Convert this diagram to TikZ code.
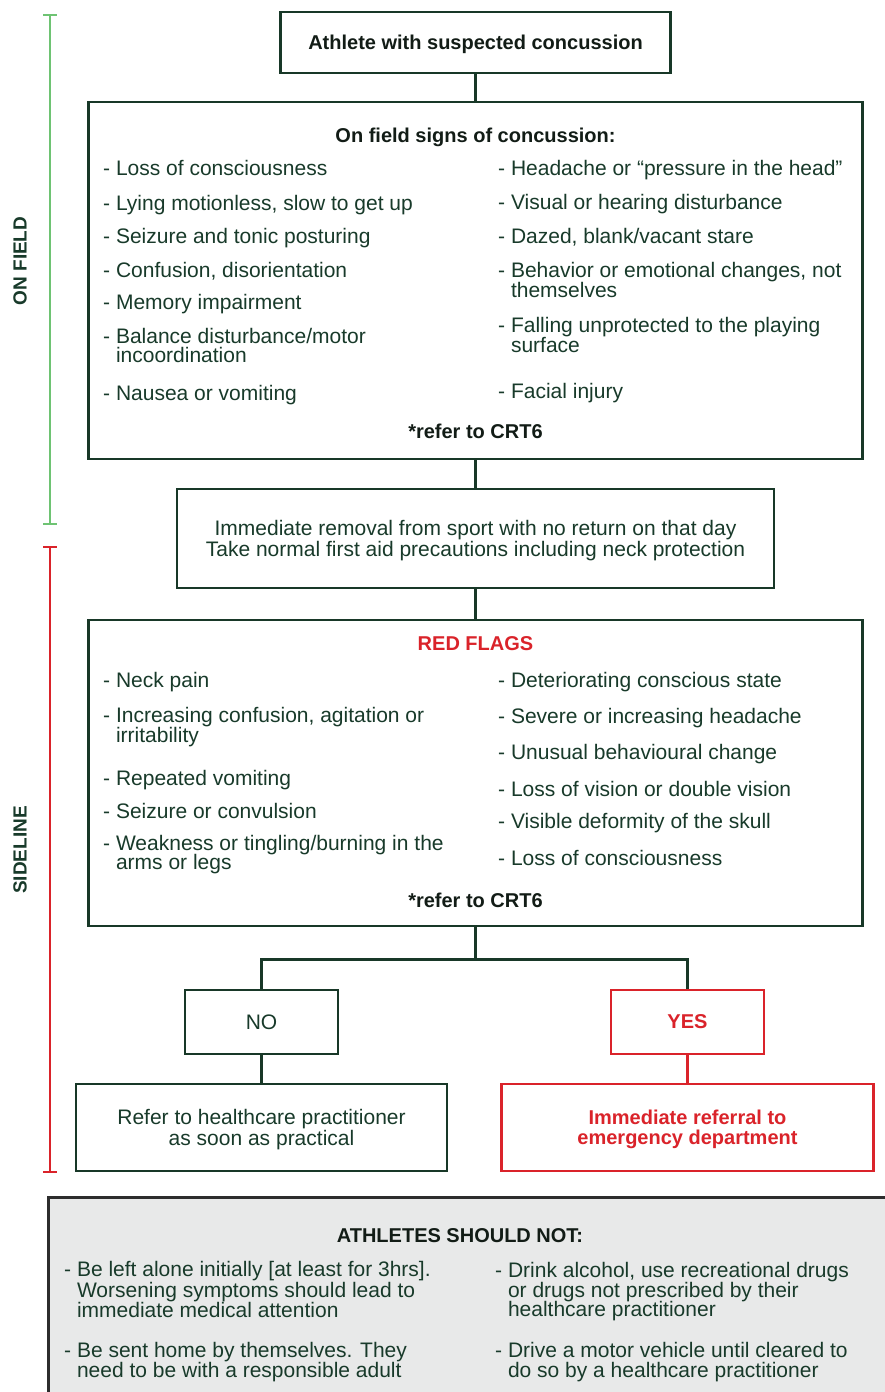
\documentclass[tikz,border=0pt]{standalone}
\usepackage{fontspec}
\setmainfont{Liberation Sans}
\definecolor{tgreen}{RGB}{24,58,42}
\definecolor{bgreen}{RGB}{24,56,40}
\definecolor{hblack}{RGB}{18,28,22}
\definecolor{fred}{RGB}{218,35,42}
\definecolor{gbarc}{RGB}{110,195,115}
\definecolor{gfill}{RGB}{232,233,233}
\definecolor{dgrey}{RGB}{45,45,45}
\tikzset{
  box/.style={draw=bgreen, line width=2.5pt, inner sep=0pt, text=tgreen, align=center},
  rbox/.style={draw=fred, line width=2.5pt, inner sep=0pt, text=fred, align=center},
  itemtxt/.style={anchor=base west, inner sep=0pt, text=tgreen, font=\fontsize{21}{20}\selectfont},
  headtxt/.style={anchor=base, inner sep=0pt, text=hblack, font=\bfseries\fontsize{20}{20}\selectfont},
  conn/.style={draw=bgreen, line width=2.5pt},
  rconn/.style={draw=fred, line width=2.5pt},
  sidelbl/.style={rotate=90, inner sep=0pt, text=tgreen, font=\bfseries\fontsize{19}{19}\selectfont},
}
\newcommand\itm[4]{\node[itemtxt] (#1) at (#2,#3) {- #4};}
\newcommand\itc[4]{\node[itemtxt] (#1) at (#2,#3) {\phantom{- }#4};}
\begin{document}
\begin{tikzpicture}[x=1pt,y=-1pt]
\useasboundingbox (0,0) rectangle (885,1392);
\fill[white] (0,0) rectangle (885,1392);

% side bars
\draw[gbarc, line width=1.6pt] (50,15) -- (50,524);
\draw[gbarc, line width=1.6pt] (43,15) -- (57,15);
\draw[gbarc, line width=1.6pt] (43,524) -- (57,524);
\draw[fred, line width=1.6pt] (50,547) -- (50,1172);
\draw[fred, line width=1.6pt] (43,547) -- (57,547);
\draw[fred, line width=1.6pt] (43,1172) -- (57,1172);
\node[sidelbl] (onfield) at (20,261) {ON FIELD};
\node[sidelbl] (sideline) at (20,850) {SIDELINE};

% boxes
\node[box, minimum width=390pt, minimum height=61pt, text depth=0pt, text=hblack, font=\bfseries\fontsize{20}{20}\selectfont] (top) at (475.5,42.5) {Athlete with suspected concussion};
\node[box, minimum width=774pt, minimum height=357pt] (signs) at (475.5,280.5) {};
\node[box, minimum width=597pt, minimum height=99pt, text depth=0pt, font=\fontsize{21}{20.5}\selectfont] (remove) at (475.5,538.5) {Immediate removal from sport with no return on that day\\Take normal first aid precautions including neck protection};
\node[box, minimum width=774pt, minimum height=306pt] (red) at (475.5,773) {};
\node[box, minimum width=153pt, minimum height=64pt, font=\fontsize{21}{21}\selectfont] (no) at (261.5,1022) {NO};
\node[rbox, minimum width=153pt, minimum height=64pt, font=\bfseries\fontsize{20}{20}\selectfont] (yes) at (687.5,1022) {YES};
\node[box, minimum width=371pt, minimum height=87pt, text depth=0pt, font=\fontsize{21}{21}\selectfont] (refer) at (261.5,1127.5) {Refer to healthcare practitioner\\as soon as practical};
\node[rbox, minimum width=372pt, minimum height=87pt, text depth=0pt, font=\bfseries\fontsize{20}{20}\selectfont] (emerg) at (687.5,1127.5) {Immediate referral to\\emergency department};

% connectors
\draw[conn] (top.south) -- (signs.north);
\draw[conn] (signs.south) -- (remove.north);
\draw[conn] (remove.south) -- (red.north);
\draw[conn] (red.south) -- ++(0,32) coordinate (bj);
\draw[conn] (no.north) -- (no.north |- bj) -- (yes.north |- bj) -- (yes.north);
\draw[conn] (no.south) -- (refer.north);
\draw[rconn] (yes.south) -- (emerg.north);

% on-field signs
\node[headtxt] (sigh) at (475.5,142) {On field signs of concussion:};
\itm{s1}{103}{175}{Loss of consciousness}
\itm{s2}{103}{210}{Lying motionless, slow to get up}
\itm{s3}{103}{243}{Seizure and tonic posturing}
\itm{s4}{103}{277}{Confusion, disorientation}
\itm{s5}{103}{309}{Memory impairment}
\itm{s6}{103}{343}{Balance disturbance/motor}
\itc{s6b}{103}{362}{incoordination}
\itm{s7}{103}{400}{Nausea or vomiting}
\itm{t1}{498}{175}{Headache or “pressure in the head”}
\itm{t2}{498}{209}{Visual or hearing disturbance}
\itm{t3}{498}{243}{Dazed, blank/vacant stare}
\itm{t4}{498}{277}{Behavior or emotional changes, not}
\itc{t4b}{498}{297}{themselves}
\itm{t5}{498}{332}{Falling unprotected to the playing}
\itc{t5b}{498}{352}{surface}
\itm{t6}{498}{398}{Facial injury}
\node[headtxt] (crt1) at (475.5,438) {*refer to CRT6};

% red flags
\node[headtxt, text=fred] (rfh) at (475.5,650) {RED FLAGS};
\itm{r1}{103}{687}{Neck pain}
\itm{r2}{103}{722}{Increasing confusion, agitation or}
\itc{r2b}{103}{742}{irritability}
\itm{r3}{103}{785}{Repeated vomiting}
\itm{r4}{103}{818}{Seizure or convulsion}
\itm{r5}{103}{850}{Weakness or tingling/burning in the}
\itc{r5b}{103}{869}{arms or legs}
\itm{q1}{498}{687}{Deteriorating conscious state}
\itm{q2}{498}{723}{Severe or increasing headache}
\itm{q3}{498}{759}{Unusual behavioural change}
\itm{q4}{498}{796}{Loss of vision or double vision}
\itm{q5}{498}{828}{Visible deformity of the skull}
\itm{q6}{498}{865}{Loss of consciousness}
\node[headtxt] (crt2) at (475.5,907) {*refer to CRT6};

% bottom box
\fill[gfill] (48,1197) rectangle (885,1392);
\draw[dgrey, line width=3pt] (48,1392) -- (48,1197) -- (885,1197);
\node[headtxt] (ath) at (460,1242) {ATHLETES SHOULD NOT:};
\itm{b1}{64}{1276}{Be left alone initially [at least for 3hrs].}
\itc{b1b}{64}{1297}{Worsening symptoms should lead to}
\itc{b1c}{64}{1317}{immediate medical attention}
\itm{b2}{64}{1357}{Be sent home by themselves. They}
\itc{b2b}{64}{1377}{need to be with a responsible adult}
\itm{c1}{495}{1277}{Drink alcohol, use recreational drugs}
\itc{c1b}{495}{1297}{or drugs not prescribed by their}
\itc{c1c}{495}{1316}{healthcare practitioner}
\itm{c2}{495}{1357}{Drive a motor vehicle until cleared to}
\itc{c2b}{495}{1377}{do so by a healthcare practitioner}
\end{tikzpicture}
\end{document}
